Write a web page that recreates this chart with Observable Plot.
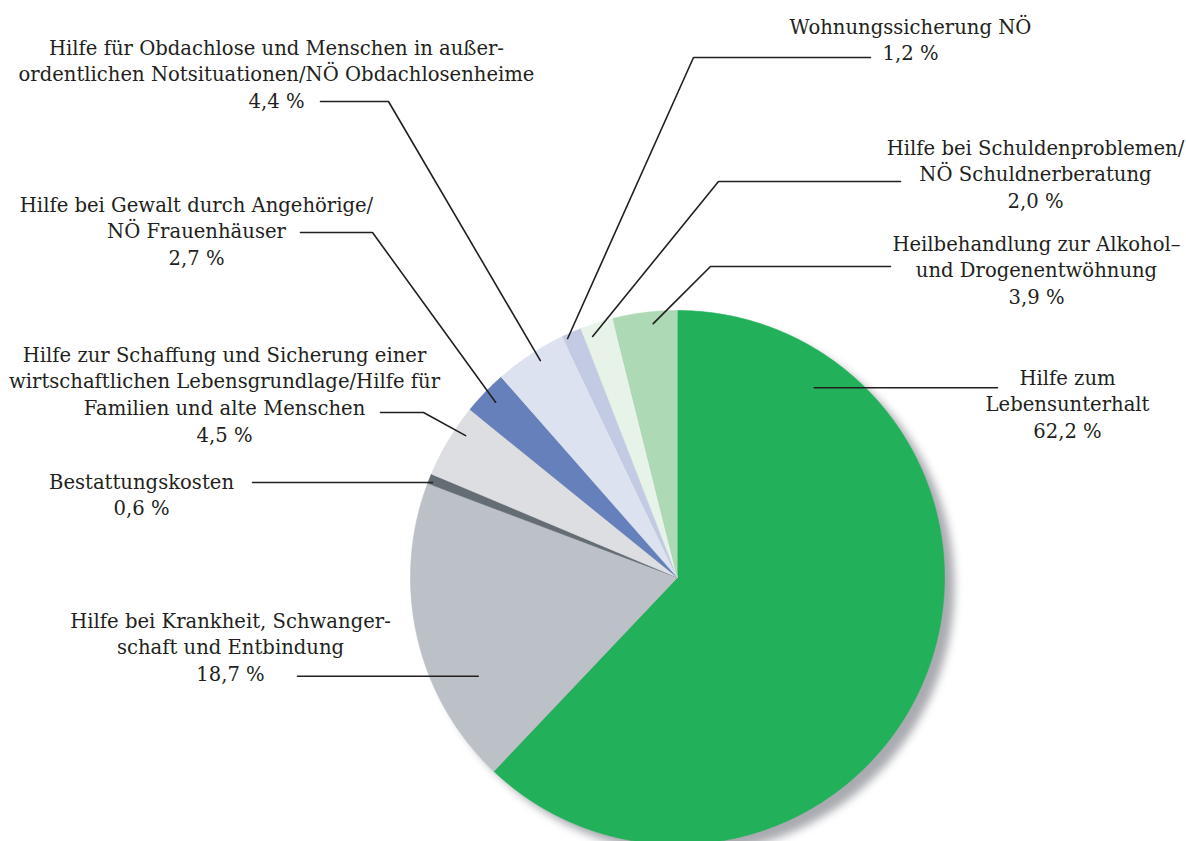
<!DOCTYPE html>
<html>
<head>
<meta charset="utf-8">
<script src="https://cdn.jsdelivr.net/npm/d3@7"></script>
<script src="https://cdn.jsdelivr.net/npm/@observablehq/plot@0.6"></script>
<style>
  html, body { margin: 0; padding: 0; background: #fff; }
</style>
</head>
<body>
<div id="chart"></div>
<script>
// ---- data ----
const categories = [
  "Hilfe zum Lebensunterhalt",
  "Hilfe bei Krankheit, Schwangerschaft und Entbindung",
  "Bestattungskosten",
  "Hilfe zur Schaffung und Sicherung einer wirtschaftlichen Lebensgrundlage/Hilfe für Familien und alte Menschen",
  "Hilfe bei Gewalt durch Angehörige/NÖ Frauenhäuser",
  "Hilfe für Obdachlose und Menschen in außerordentlichen Notsituationen/NÖ Obdachlosenheime",
  "Wohnungssicherung NÖ",
  "Hilfe bei Schuldenproblemen/NÖ Schuldnerberatung",
  "Heilbehandlung zur Alkohol- und Drogenentwöhnung"
];
const shares = [62.2, 18.7, 0.6, 4.5, 2.7, 4.4, 1.2, 2.0, 3.9];
const labelLines = [
  ["Hilfe zum", "Lebensunterhalt"],
  ["Hilfe bei Krankheit, Schwanger-", "schaft und Entbindung"],
  ["Bestattungskosten"],
  ["Hilfe zur Schaffung und Sicherung einer", "wirtschaftlichen Lebensgrundlage/Hilfe für", "Familien und alte Menschen"],
  ["Hilfe bei Gewalt durch Angehörige/", "NÖ Frauenhäuser"],
  ["Hilfe für Obdachlose und Menschen in außer-", "ordentlichen Notsituationen/NÖ Obdachlosenheime"],
  ["Wohnungssicherung NÖ"],
  ["Hilfe bei Schuldenproblemen/", "NÖ Schuldnerberatung"],
  ["Heilbehandlung zur Alkohol–", "und Drogenentwöhnung"]
];

// ---- styling / layout ----
const colors = ["#22b05a", "#bcc0c7", "#656d74", "#dcdee2", "#6680bb", "#dde2f0", "#c3cae3", "#e7f3e9", "#aed9b5"];
const W = 1186, H = 841;
const CX = 677, CY = 577, R = 267;
const FONT = "DejaVu Serif";
const FS = 19.6, LH = 26.6;
// leader: position within slice (fraction of angle span, fraction of radius), optional elbow, outer end
const leaderLayout = [
  {t: 0.16, rr: 0.876, elbow: null, outX: 997},
  {t: 0.30, rr: 0.833, elbow: null, outX: 297},
  {t: 0.25, rr: 0.984, elbow: null, outX: 252},
  {t: 0.68, rr: 0.955, elbow: [423, 412], out: [380, 412]},
  {t: 0.51, rr: 0.946, elbow: [372, 232], out: [300, 232]},
  {t: 0.57, rr: 0.961, elbow: [388, 101], out: [320, 101]},
  {t: 0.19, rr: 0.985, elbow: [693, 57], out: [870, 57]},
  {t: 0.25, rr: 0.957, elbow: [718, 181], out: [900, 181]},
  {t: 0.61, rr: 0.955, elbow: [710, 266], out: [890, 266]}
];
const labelLayout = [
  [1067, 378], [230, 621], [141, 482], [224, 355], [196, 205],
  [276, 48], [910, 27], [1035, 148], [1036, 244]
];

// ---- build geometry via d3.pie ----
const pie = d3.pie().sort(null).value(d => d)(shares);
const polar = (a, rad) => [CX + rad * Math.sin(a), CY - rad * Math.cos(a)];

const slicePts = [];
pie.forEach((p, i) => {
  slicePts.push({k: i, x: CX, y: CY});
  const n = Math.max(2, Math.ceil((p.endAngle - p.startAngle) / (Math.PI / 360)));
  for (let j = 0; j <= n; j++) {
    const a = p.startAngle + (p.endAngle - p.startAngle) * j / n;
    const [x, y] = polar(a, R);
    slicePts.push({k: i, x, y});
  }
});
const fillOf = d => colors[d.k];

const leaderPts = [];
pie.forEach((p, i) => {
  const L = leaderLayout[i];
  const a = p.startAngle + (p.endAngle - p.startAngle) * L.t;
  const [x0, y0] = polar(a, R * L.rr);
  leaderPts.push({k: i, x: x0, y: y0});
  if (L.elbow) {
    leaderPts.push({k: i, x: L.elbow[0], y: L.elbow[1]});
    leaderPts.push({k: i, x: L.out[0], y: L.out[1]});
  } else {
    leaderPts.push({k: i, x: L.outX, y: y0});
  }
});

const fmt = v => v.toFixed(1).replace(".", ",") + " %";
const textRows = [];
categories.forEach((c, i) => {
  const lines = [...labelLines[i], fmt(shares[i])];
  lines.forEach((s, j) => {
    textRows.push({text: s, x: labelLayout[i][0], y: labelLayout[i][1] + j * LH});
  });
});

const chart = Plot.plot({
  width: W,
  height: H,
  margin: 0,
  x: {domain: [0, W], range: [0, W], axis: null},
  y: {domain: [0, H], range: [0, H], axis: null},
  marks: [
    Plot.dot([0], {x: () => CX + 10, y: () => CY + 9, r: R, fill: "#a9abb0", stroke: null}),
    Plot.line(slicePts, {x: "x", y: "y", z: "k", fill: fillOf, stroke: fillOf, strokeWidth: 0.6, curve: "linear"}),
    Plot.line(leaderPts, {x: "x", y: "y", z: "k", stroke: "#231f20", strokeWidth: 1.6, curve: "linear"}),
    Plot.text(textRows, {x: "x", y: "y", text: "text", textAnchor: "middle", lineAnchor: "middle",
      fontFamily: FONT, fontSize: FS, fill: "#231f20"})
  ]
});
d3.select(chart).selectAll('g[aria-label="dot"]').style("filter", "blur(4px)");
document.getElementById("chart").appendChild(chart);
</script>
</body>
</html>
